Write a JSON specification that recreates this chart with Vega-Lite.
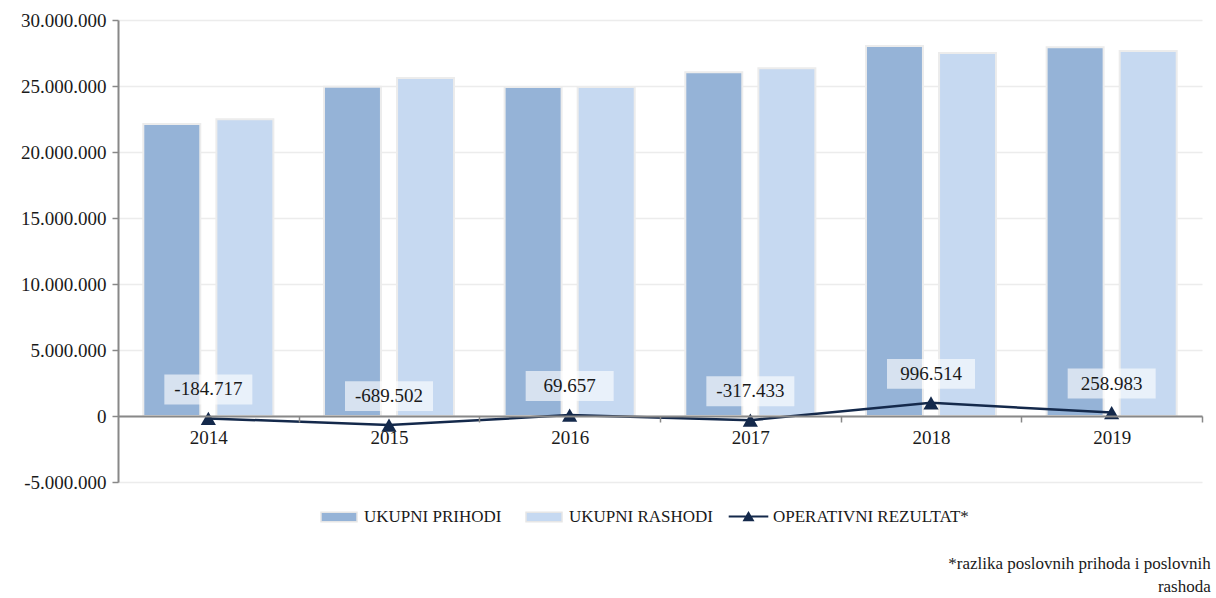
{
  "$schema": "https://vega.github.io/schema/vega-lite/v6.json",
  "width": 1084,
  "height": 462,
  "autosize": "none",
  "padding": {"left": 118, "top": 20, "right": 14, "bottom": 116},
  "background": "white",
  "config": {
    "locale": {"number": {"decimal": ",", "thousands": ".", "grouping": [3], "currency": ["", ""], "minus": "-"}},
    "font": "Liberation Serif",
    "view": {"stroke": null},
    "axis": {"labelFont": "Liberation Serif", "labelColor": "#1a1a1a"}
  },
  "title": {
    "text": ["*razlika poslovnih prihoda i poslovnih", "rashoda"],
    "orient": "bottom",
    "anchor": "end",
    "align": "right",
    "font": "Liberation Serif",
    "fontSize": 17,
    "fontWeight": "normal",
    "color": "#1a1a1a",
    "lineHeight": 23,
    "offset": 31,
    "dx": 8
  },
  "datasets": {
    "bars": [
      {"year": "2014", "series": "UKUPNI PRIHODI", "value": 22120000},
      {"year": "2014", "series": "UKUPNI RASHODI", "value": 22480000},
      {"year": "2015", "series": "UKUPNI PRIHODI", "value": 24940000},
      {"year": "2015", "series": "UKUPNI RASHODI", "value": 25600000},
      {"year": "2016", "series": "UKUPNI PRIHODI", "value": 24920000},
      {"year": "2016", "series": "UKUPNI RASHODI", "value": 24930000},
      {"year": "2017", "series": "UKUPNI PRIHODI", "value": 26040000},
      {"year": "2017", "series": "UKUPNI RASHODI", "value": 26340000},
      {"year": "2018", "series": "UKUPNI PRIHODI", "value": 28030000},
      {"year": "2018", "series": "UKUPNI RASHODI", "value": 27500000},
      {"year": "2019", "series": "UKUPNI PRIHODI", "value": 27940000},
      {"year": "2019", "series": "UKUPNI RASHODI", "value": 27650000}
    ],
    "op": [
      {"year": "2014", "op": -184717},
      {"year": "2015", "op": -689502},
      {"year": "2016", "op": 69657},
      {"year": "2017", "op": -317433},
      {"year": "2018", "op": 996514},
      {"year": "2019", "op": 258983}
    ]
  },
  "encoding": {
    "x": {
      "field": "year",
      "type": "nominal",
      "scale": {"paddingInner": 0.28, "paddingOuter": 0.14},
      "axis": {
        "title": null,
        "labelAngle": 0,
        "offset": -66,
        "domainColor": "#888888",
        "domainWidth": 2,
        "tickColor": "#888888",
        "tickWidth": 1.5,
        "tickSize": 6,
        "tickOffset": 90.3,
        "labelOffset": -90.3,
        "labelFontSize": 19,
        "labelPadding": 6,
        "zindex": 1
      }
    }
  },
  "layer": [
    {
      "data": {"name": "bars"},
      "mark": {"type": "bar", "stroke": "#ececec", "strokeWidth": 2},
      "encoding": {
        "xOffset": {"field": "series", "type": "nominal", "scale": {"paddingInner": 0.22, "paddingOuter": 0}},
        "y": {
          "field": "value",
          "type": "quantitative",
          "scale": {"domain": [-5000000, 30000000], "nice": false},
          "axis": {
            "title": null,
            "values": [-5000000, 0, 5000000, 10000000, 15000000, 20000000, 25000000, 30000000],
            "format": ",d",
            "labelFontSize": 19,
            "labelPadding": 6,
            "domainColor": "#888888",
            "domainWidth": 2,
            "tickColor": "#888888",
            "tickWidth": 1.5,
            "tickSize": 6,
            "gridColor": "#ececec",
            "gridWidth": 1.5
          }
        },
        "color": {
          "field": "series",
          "type": "nominal",
          "scale": {
            "domain": ["UKUPNI PRIHODI", "UKUPNI RASHODI"],
            "range": ["#95b3d7", "#c6d9f1"]
          },
          "legend": {
            "title": null,
            "orient": "none",
            "direction": "horizontal",
            "legendX": 208,
            "legendY": 484,
            "symbolType": "M-1.5,-0.4H1.5V0.4H-1.5Z",
            "symbolSize": 576,
            "symbolStrokeColor": "#e6e6e6",
            "symbolStrokeWidth": 1.5,
            "labelOffset": 12,
            "columnPadding": 21,
            "labelLimit": 400,
            "labelFont": "Liberation Serif",
            "labelFontSize": 17,
            "labelColor": "#1a1a1a"
          }
        }
      }
    },
    {
      "data": {"name": "op"},
      "mark": {"type": "line", "color": "#14294b", "strokeWidth": 2.5, "point": {"shape": "triangle-up", "size": 230, "filled": true, "color": "#14294b"}},
      "encoding": {
        "y": {"field": "op", "type": "quantitative"},
        "opacity": {
          "datum": "OPERATIVNI REZULTAT*",
          "type": "ordinal",
          "scale": {"range": [1]},
          "legend": {
            "title": null,
            "orient": "none",
            "direction": "horizontal",
            "legendX": 618,
            "legendY": 484,
            "symbolType": "M-1.65,-0.09H1.65V0.09H-1.65Z M-0.5,0.4L0,-0.45L0.5,0.4Z",
            "symbolSize": 576,
            "symbolFillColor": "#14294b",
            "symbolStrokeColor": "#14294b",
            "symbolStrokeWidth": 0.5,
            "symbolOpacity": 1,
            "labelOffset": 12,
            "labelLimit": 400,
            "labelFont": "Liberation Serif",
            "labelFontSize": 17,
            "labelColor": "#1a1a1a"
          }
        }
      }
    },
    {
      "data": {"name": "op"},
      "mark": {"type": "point", "shape": "M-1,-0.34H1V0.34H-1Z", "size": 7744, "filled": true, "fill": "white", "opacity": 0.62, "strokeWidth": 0},
      "encoding": {
        "y": {"field": "op", "type": "quantitative"},
        "yOffset": {"value": -29}
      }
    },
    {
      "data": {"name": "op"},
      "mark": {"type": "text", "dy": -29, "fontSize": 19, "font": "Liberation Serif", "color": "#1a1a1a", "baseline": "middle"},
      "encoding": {
        "y": {"field": "op", "type": "quantitative"},
        "text": {"field": "op", "type": "quantitative", "format": ",d"}
      }
    }
  ]
}
